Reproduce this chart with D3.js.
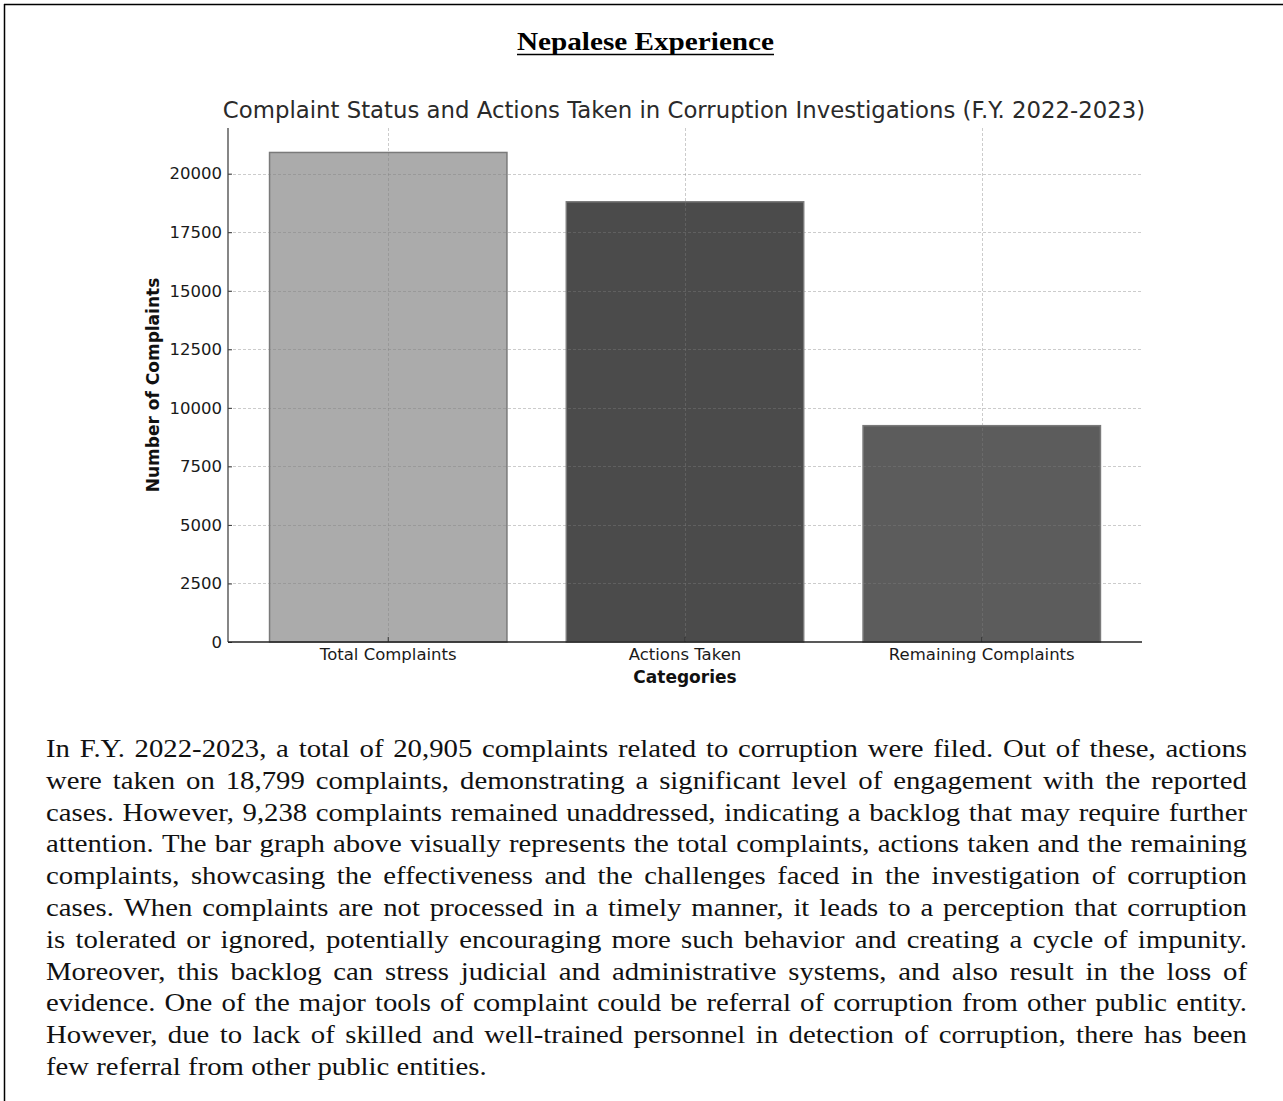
<!DOCTYPE html>
<html>
<head>
<meta charset="utf-8">
<script src="https://cdn.jsdelivr.net/npm/d3@7"></script>
<style>
  html, body { margin: 0; padding: 0; background: #fff; }
  svg { display: block; }
</style>
</head>
<body>
<div id="chart"></div>
<script>
// ---------------- data ----------------
const categories = ["Total Complaints", "Actions Taken", "Remaining Complaints"];
const complaintValues = [20905, 18799, 9238];
const yTickValues = [0, 2500, 5000, 7500, 10000, 12500, 15000, 17500, 20000];
const yDomainMax = 21950;
const heading = "Nepalese Experience";
const chartTitle = "Complaint Status and Actions Taken in Corruption Investigations (F.Y. 2022-2023)";
const xAxisLabel = "Categories";
const yAxisLabel = "Number of Complaints";
const paragraphLines = [
  "In F.Y. 2022-2023, a total of 20,905 complaints related to corruption were filed. Out of these, actions",
  "were taken on 18,799 complaints, demonstrating a significant level of engagement with the reported",
  "cases. However, 9,238 complaints remained unaddressed, indicating a backlog that may require further",
  "attention. The bar graph above visually represents the total complaints, actions taken and the remaining",
  "complaints, showcasing the effectiveness and the challenges faced in the investigation of corruption",
  "cases. When complaints are not processed in a timely manner, it leads to a perception that corruption",
  "is tolerated or ignored, potentially encouraging more such behavior and creating a cycle of impunity.",
  "Moreover, this backlog can stress judicial and administrative systems, and also result in the loss of",
  "evidence. One of the major tools of complaint could be referral of corruption from other public entity.",
  "However, due to lack of skilled and well-trained personnel in detection of corruption, there has been",
  "few referral from other public entities."
];

// ---------------- styles ----------------
const barFills = ["#ababab", "#4b4b4b", "#5c5c5c"];
const W = 1283, H = 1101;
const plot = { left: 228, right: 1142, top: 128, bottom: 642 };
const sansFont = "'DejaVu Sans', Verdana, sans-serif";
const serifFont = "'Liberation Serif', 'Times New Roman', serif";

const svg = d3.select("#chart").append("svg")
  .attr("width", W).attr("height", H)
  .attr("viewBox", `0 0 ${W} ${H}`);

svg.append("rect").attr("width", W).attr("height", H).attr("fill", "#fff");

// page frame (top and left rules)
svg.append("line").attr("x1", 4).attr("x2", W).attr("y1", 4.5).attr("y2", 4.5)
  .attr("stroke", "#000").attr("stroke-width", 1.5);
svg.append("line").attr("x1", 4.5).attr("x2", 4.5).attr("y1", 4).attr("y2", H)
  .attr("stroke", "#000").attr("stroke-width", 1.5);

// heading
const headX0 = 517, headX1 = 774;
svg.append("text")
  .attr("x", headX0).attr("y", 49.5)
  .attr("font-family", serifFont).attr("font-weight", "bold").attr("font-size", 25)
  .attr("textLength", headX1 - headX0).attr("lengthAdjust", "spacingAndGlyphs")
  .attr("fill", "#000")
  .text(heading);
svg.append("line").attr("x1", headX0).attr("x2", headX1).attr("y1", 54.5).attr("y2", 54.5)
  .attr("stroke", "#000").attr("stroke-width", 1.6);

// scales
const x = d3.scaleBand().domain(categories)
  .range([plot.left, plot.right])
  .paddingInner(0.2).paddingOuter(0.14);
const y = d3.scaleLinear().domain([0, yDomainMax]).range([plot.bottom, plot.top]);

const g = svg.append("g");

// bars
g.selectAll("rect.bar").data(categories).join("rect")
  .attr("class", "bar")
  .attr("x", d => x(d))
  .attr("width", x.bandwidth())
  .attr("y", (d, i) => y(complaintValues[i]))
  .attr("height", (d, i) => y(0) - y(complaintValues[i]))
  .attr("fill", (d, i) => barFills[i])
  .attr("stroke", "#7a7a7a")
  .attr("stroke-width", 1.5);

// grid (on top of bars)
const grid = g.append("g").attr("stroke", "#808080").attr("stroke-opacity", 0.5)
  .attr("stroke-width", 0.8).attr("stroke-dasharray", "3,2").attr("fill", "none");
grid.selectAll("line.h").data(yTickValues.filter(v => v > 0)).join("line")
  .attr("class", "h")
  .attr("x1", plot.left).attr("x2", plot.right)
  .attr("y1", d => Math.round(y(d)) + 0.5).attr("y2", d => Math.round(y(d)) + 0.5);
grid.selectAll("line.v").data(categories).join("line")
  .attr("class", "v")
  .attr("x1", d => Math.round(x(d) + x.bandwidth() / 2) + 0.5)
  .attr("x2", d => Math.round(x(d) + x.bandwidth() / 2) + 0.5)
  .attr("y1", plot.top).attr("y2", plot.bottom);

// y axis
const yAxis = g.append("g")
  .attr("transform", `translate(${plot.left},0)`)
  .call(d3.axisLeft(y).tickValues(yTickValues).tickFormat(d3.format("d"))
    .tickSizeInner(-4).tickSizeOuter(0).tickPadding(9));
yAxis.select(".domain").remove();
yAxis.selectAll(".tick line").attr("stroke", "#333").attr("stroke-width", 1);
yAxis.selectAll(".tick text")
  .attr("font-family", sansFont).attr("font-size", 16.5).attr("fill", "#1a1a1a")
  .attr("x", -6);
g.append("line").attr("x1", plot.left).attr("x2", plot.left)
  .attr("y1", plot.top).attr("y2", plot.bottom)
  .attr("stroke", "#444").attr("stroke-width", 1.3);

// x axis
const xAxis = g.append("g")
  .attr("transform", `translate(0,${plot.bottom})`)
  .call(d3.axisBottom(x).tickSizeInner(-5).tickSizeOuter(0).tickPadding(0));
xAxis.select(".domain").remove();
xAxis.selectAll(".tick line").attr("stroke", "#333").attr("stroke-width", 1);
xAxis.selectAll(".tick text")
  .attr("font-family", sansFont).attr("font-size", 16.5).attr("fill", "#1a1a1a")
  .attr("y", 18).attr("dy", 0);
g.append("line").attr("x1", plot.left).attr("x2", plot.right)
  .attr("y1", plot.bottom).attr("y2", plot.bottom)
  .attr("stroke", "#222").attr("stroke-width", 1.3);

// axis labels
svg.append("text")
  .attr("x", (plot.left + plot.right) / 2).attr("y", 683)
  .attr("text-anchor", "middle")
  .attr("font-family", sansFont).attr("font-weight", "bold").attr("font-size", 17)
  .attr("fill", "#111").text(xAxisLabel);
svg.append("text")
  .attr("transform", `translate(158.5,${(plot.top + plot.bottom) / 2}) rotate(-90)`)
  .attr("text-anchor", "middle")
  .attr("font-family", sansFont).attr("font-weight", "bold").attr("font-size", 17)
  .attr("fill", "#111").text(yAxisLabel);

// chart title
svg.append("text")
  .attr("x", (plot.left + plot.right) / 2 - 1).attr("y", 118)
  .attr("text-anchor", "middle")
  .attr("font-family", sansFont).attr("font-size", 22.8)
  .attr("fill", "#2a2a2a").text(chartTitle);

// paragraph (justified lines)
const textLeft = 46, textRight = 1247, baseY = 757, pitch = 31.8, SX = 1.15, fontSize = 25;
const para = svg.append("g")
  .attr("font-family", serifFont).attr("font-size", fontSize).attr("fill", "#111");
paragraphLines.forEach((line, i) => {
  const words = line.split(" ");
  const ly = baseY + i * pitch;
  const nodes = words.map(w => para.append("text").text(w));
  const widths = nodes.map(t => t.node().getComputedTextLength() * SX);
  const total = d3.sum(widths);
  const isLast = i === paragraphLines.length - 1;
  const gap = isLast ? fontSize * 0.25 * SX : (textRight - textLeft - total) / (words.length - 1);
  let cx = textLeft;
  nodes.forEach((t, j) => {
    t.attr("transform", `translate(${cx},${ly}) scale(${SX},1)`);
    cx += widths[j] + gap;
  });
});
</script>
</body>
</html>
